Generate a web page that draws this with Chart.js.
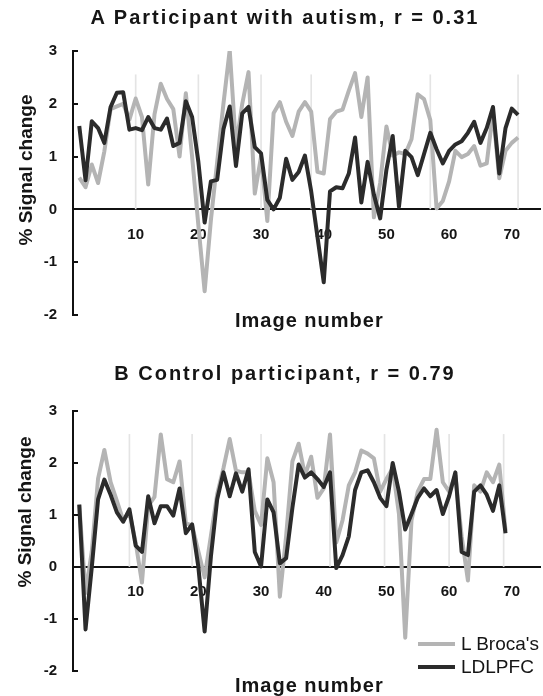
<!DOCTYPE html>
<html>
<head>
<meta charset="utf-8">
<title>Signal change by image number</title>
<script src="https://cdn.jsdelivr.net/npm/chart.js@4.4.0/dist/chart.umd.min.js"></script>
<style>
  body { margin: 0; background: #fff; }
  #wrap { position: relative; width: 543px; height: 696px; overflow: hidden;
          font-family: "Liberation Sans", Arial, Helvetica, sans-serif; color: #151515; }
  canvas { position: absolute; left: 0; }
  .title { position: absolute; left: 0; width: 570px; text-align: center; font-weight: bold;
           font-size: 20px; letter-spacing: 2px; line-height: 24px; white-space: nowrap; }
  .ytitle { position: absolute; font-weight: bold; font-size: 19px; line-height: 22px; white-space: nowrap;
            transform: translate(-50%, -50%) rotate(-90deg); }
  .xtitle { position: absolute; font-weight: bold; font-size: 20px; letter-spacing: 1px; line-height: 24px; white-space: nowrap; }
  .legend { position: absolute; left: 418px; font-size: 19px; line-height: 24px; }
  .legend div { display: flex; align-items: center; height: 23px; white-space: nowrap; }
  .legend span.sw { display: inline-block; width: 37px; height: 4px; margin-right: 6px; }
</style>
</head>
<body>
<div id="wrap">
  <canvas id="chartA" width="543" height="340" style="top:0"></canvas>
  <canvas id="chartB" width="543" height="356" style="top:340px"></canvas>

  <div class="title" style="top:5px">A Participant with autism, r = 0.31</div>
  <div class="title" style="top:361px">B Control participant, r = 0.79</div>

  <div class="ytitle" style="left:26px; top:170px">% Signal change</div>
  <div class="ytitle" style="left:25px; top:512px">% Signal change</div>

  <div class="xtitle" style="left:235px; top:308px">Image number</div>
  <div class="xtitle" style="left:235px; top:673px">Image number</div>

  <div class="legend" style="top:632px">
    <div><span class="sw" style="background:#b4b4b4"></span>L Broca's</div>
    <div><span class="sw" style="background:#2b2b2b"></span>LDLPFC</div>
  </div>
</div>

<script>
// panel A: participant with autism (images 1..71)
const brocaA = [0.6, 0.42, 0.85, 0.5, 1.1, 1.9, 1.95, 2.0, 1.7, 2.1,
  1.75, 0.47, 1.8, 2.38, 2.09, 1.9, 1.0, 2.2, 1.0, -0.3,
  -1.55, -0.2, 0.9, 2.0, 3.02, 1.2, 2.0, 2.6, 0.3, 1.0,
  -0.22, 1.82, 2.03, 1.66, 1.39, 1.85, 2.03, 1.85, 0.71, 0.68,
  1.71, 1.85, 1.89, 2.25, 2.58, 1.75, 2.5, -0.15, 0.5, 1.57,
  1.02, 1.08, 1.05, 1.33, 2.18, 2.09, 1.69, 0.02, 0.16, 0.53,
  1.11, 0.99, 1.05, 1.2, 0.83, 0.87, 1.85, 0.59, 1.11, 1.26,
  1.36];
const ldlpfcA = [1.58, 0.55, 1.67, 1.54, 1.26, 1.94, 2.21, 2.22, 1.51, 1.54,
  1.5, 1.75, 1.54, 1.51, 1.72, 1.2, 1.26, 2.05, 1.75, 0.9,
  -0.25, 0.53, 0.56, 1.52, 1.95, 0.82, 1.82, 1.94, 1.18, 1.06,
  0.18, 0.0, 0.22, 0.96, 0.56, 0.71, 1.02, 0.34, -0.52, -1.38,
  0.34, 0.42, 0.4, 0.68, 1.36, 0.13, 0.9, 0.28, -0.17, 0.75,
  1.39, 0.05, 1.11, 0.99, 0.65, 1.05, 1.45, 1.14, 0.87, 1.11,
  1.23, 1.29, 1.45, 1.66, 1.26, 1.54, 1.94, 0.68, 1.54, 1.91,
  1.79];
const blocksA = [10, 20, 30, 38, 57, 71];

// panel B: control participant (images 1..69)
const brocaB = [1.2, -0.5, 0.3, 1.7, 2.25, 1.63, 1.27, 0.9, 1.05, 0.47,
  -0.3, 1.17, 1.35, 2.55, 1.69, 1.63, 2.03, 0.84, 0.8, 0.3,
  -0.2, 0.6, 1.4, 1.9, 2.46, 1.85, 1.82, 1.82, 1.08, 0.81,
  2.09, 1.63, -0.57, 0.59, 2.03, 2.37, 1.76, 2.12, 1.33, 1.51,
  2.55, 0.47, 0.9, 1.57, 1.82, 2.24, 2.18, 2.09, 1.45, 1.69,
  1.9, 1.02, -1.36, 0.9, 1.45, 1.69, 1.69, 2.64, 1.63, 1.45,
  1.76, 0.59, -0.26, 1.57, 1.45, 1.82, 1.63, 1.97, 0.7];
const ldlpfcB = [1.2, -1.2, 0.0, 1.3, 1.68, 1.39, 1.05, 0.87, 1.11, 0.41,
  0.29, 1.36, 0.84, 1.17, 1.17, 0.99, 1.51, 0.65, 0.82, 0.0,
  -1.24, 0.2, 1.3, 1.82, 1.36, 1.8, 1.45, 1.88, 0.29, 0.01,
  1.3, 1.05, 0.07, 0.17, 1.14, 1.97, 1.72, 1.82, 1.69, 1.54,
  1.82, -0.02, 0.23, 0.59, 1.48, 1.82, 1.86, 1.63, 1.33, 1.17,
  2.0, 1.45, 0.72, 1.02, 1.33, 1.51, 1.36, 1.48, 1.02, 1.36,
  1.82, 0.29, 0.23, 1.45, 1.57, 1.39, 1.08, 1.57, 0.65];
const blocksB = [9, 19, 30, 41, 49.7, 60, 68.7];

const xTicks = [10, 20, 30, 40, 50, 60, 70];
const yTicks = [-2, -1, 0, 1, 2, 3];
const blockTop = 2.55;

const FONT = '"Liberation Sans", Arial, Helvetica, sans-serif';

// small tick marks on the inside of the y axis
const inwardTicks = {
  id: 'inwardTicks',
  afterDraw(chart) {
    const ys = chart.scales.y;
    const ctx = chart.ctx;
    const left = chart.chartArea.left;
    ctx.save();
    ctx.strokeStyle = '#111';
    ctx.lineWidth = 2;
    yTicks.forEach(v => {
      const py = Math.round(ys.getPixelForValue(v));
      ctx.beginPath();
      ctx.moveTo(left - 1, py);
      ctx.lineTo(left + 5, py);
      ctx.stroke();
    });
    ctx.restore();
  }
};

function points(values) {
  return values.map((v, i) => ({ x: i + 1, y: v }));
}

function makeChart(id, broca, ldlpfc, blocks, padTop, padBottom) {
  return new Chart(document.getElementById(id), {
    type: 'line',
    data: {
      datasets: [{
        label: 'LDLPFC',
        data: points(ldlpfc),
        borderColor: '#2b2b2b',
        borderWidth: 4,
        borderJoinStyle: 'round',
        pointRadius: 0,
        tension: 0,
        order: 0
      }, {
        label: "L Broca's",
        data: points(broca),
        borderColor: '#b4b4b4',
        borderWidth: 4,
        borderJoinStyle: 'round',
        pointRadius: 0,
        tension: 0,
        order: 1
      }, {
        type: 'bar',
        label: 'blocks',
        data: blocks.map(b => ({ x: b, y: blockTop })),
        backgroundColor: '#e4e4e4',
        barThickness: 1,
        borderWidth: 0,
        order: 2
      }]
    },
    options: {
      responsive: false,
      animation: false,
      devicePixelRatio: 1,
      layout: { padding: { left: 0, right: 3, top: padTop, bottom: padBottom } },
      plugins: { legend: { display: false }, tooltip: { enabled: false }, title: { display: false } },
      scales: {
        x: {
          type: 'linear',
          position: { y: 0 },
          min: 0,
          max: 74.5,
          offset: false,
          grid: { drawOnChartArea: false, drawTicks: false },
          border: { color: '#111', width: 2 },
          afterBuildTicks: s => { s.ticks = xTicks.map(v => ({ value: v })); },
          ticks: {
            autoSkip: false,
            maxRotation: 0,
            padding: 16,
            color: '#151515',
            font: { family: FONT, size: 15, weight: 'bold' }
          }
        },
        y: {
          min: -2,
          max: 3,
          afterBuildTicks: s => { s.ticks = yTicks.map(v => ({ value: v })); },
          afterFit: s => { s.width = 73; },
          grid: { drawOnChartArea: false, drawTicks: false },
          border: { color: '#111', width: 2 },
          ticks: {
            padding: 16,
            color: '#151515',
            font: { family: FONT, size: 15, weight: 'bold' }
          }
        }
      }
    },
    plugins: [inwardTicks]
  });
}

makeChart('chartA', brocaA, ldlpfcA, blocksA, 51, 20);
makeChart('chartB', brocaB, ldlpfcB, blocksB, 71, 16);
</script>
</body>
</html>
